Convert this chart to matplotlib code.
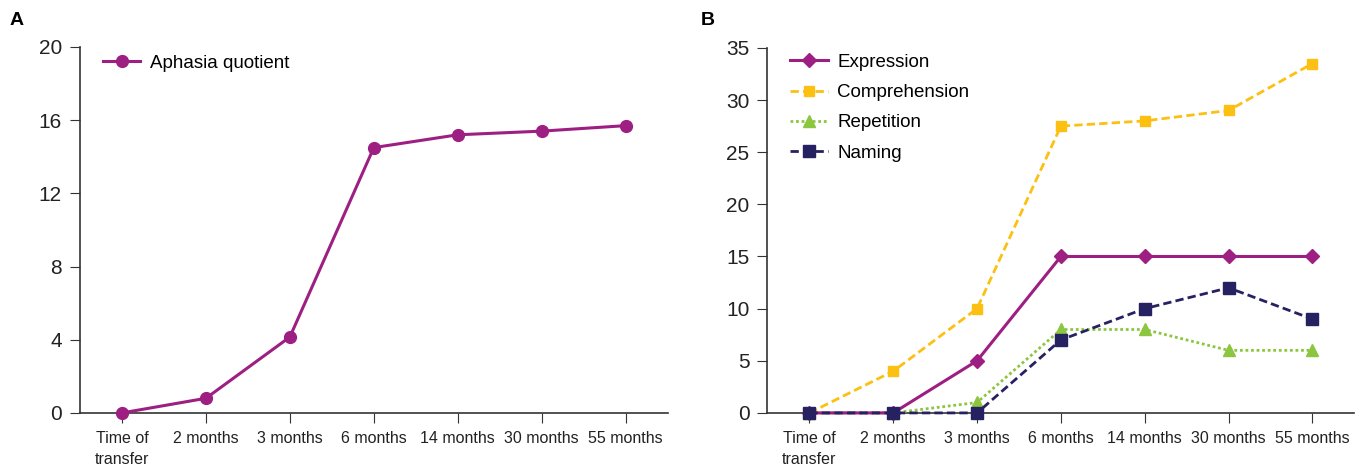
import numpy as np
import matplotlib
matplotlib.use('Agg')
import matplotlib.pyplot as plt

plt.rcParams['font.family'] = ['Liberation Sans Narrow', 'Liberation Sans', 'DejaVu Sans']

# data
cats = ['Time of\ntransfer', '2 months', '3 months', '6 months', '14 months', '30 months', '55 months']
aq = [0, 0.8, 4.15, 14.5, 15.2, 15.4, 15.7]
expression = [0, 0, 5, 15, 15, 15, 15]
comprehension = [0, 4, 10, 27.5, 28, 29, 33.5]
repetition = [0, 0, 1, 8, 8, 6, 6]
naming = [0, 0, 0, 7, 10, 12, 9]

purple = '#9e1f82'
yellow = '#fcc012'
green = '#8cc63f'
navy = '#262261'
axcol = '#333333'

fig = plt.figure(figsize=(13.68, 4.65), dpi=100)
axA = fig.add_axes([0.0585, 0.112, 0.4295, 0.787])
axB = fig.add_axes([0.561, 0.112, 0.429, 0.785])

x = np.arange(len(cats))

def style(ax):
    for s in ['top', 'right']:
        ax.spines[s].set_visible(False)
    for s in ['left', 'bottom']:
        ax.spines[s].set_color(axcol)
        ax.spines[s].set_linewidth(1.2)
    ax.set_xlim(-0.5, 6.5)
    ax.set_xticks(x)
    ax.set_xticklabels(cats, fontsize=11.5, color='#222222', linespacing=1.5)
    ax.tick_params(axis='x', length=7, color=axcol, pad=6)
    ax.tick_params(axis='y', length=7, color=axcol, labelsize=15, labelcolor='#222222', pad=6)

axA.plot(x, aq, color=purple, lw=2.2, marker='o', ms=8.5, label='Aphasia quotient', clip_on=False, zorder=3)
axA.set_ylim(0, 20)
axA.set_yticks([0, 4, 8, 12, 16, 20])
style(axA)
axA.legend(loc='upper left', bbox_to_anchor=(0.01, 1.025), frameon=False, fontsize=13.5,
           handlelength=2.0, handletextpad=0.5)

axB.plot(x, comprehension, color=yellow, lw=2, ls=(0, (3, 1.5)), marker='s', ms=7, label='Comprehension', clip_on=False, zorder=3)
axB.plot(x, repetition, color=green, lw=2, ls=(0, (1, 1)), marker='^', ms=8, label='Repetition', clip_on=False, zorder=3)
axB.plot(x, naming, color=navy, lw=2, ls=(0, (3, 1.5)), marker='s', ms=8, label='Naming', clip_on=False, zorder=4)
axB.plot(x, expression, color=purple, lw=2.2, marker='D', ms=7.5, label='Expression', clip_on=False, zorder=3)
axB.set_ylim(0, 35)
axB.set_yticks([0, 5, 10, 15, 20, 25, 30, 35])
style(axB)
h, l = axB.get_legend_handles_labels()
order = [3, 0, 1, 2]
axB.legend([h[i] for i in order], [l[i] for i in order], loc='upper left', bbox_to_anchor=(0.01, 1.03),
           frameon=False, fontsize=13.5, handlelength=2.0, handletextpad=0.5, labelspacing=0.7)

fig.text(0.007, 0.975, 'A', fontsize=14, fontweight='bold', va='top', family='Liberation Sans')
fig.text(0.512, 0.975, 'B', fontsize=14, fontweight='bold', va='top', family='Liberation Sans')

fig.savefig('out.png', dpi=100)
